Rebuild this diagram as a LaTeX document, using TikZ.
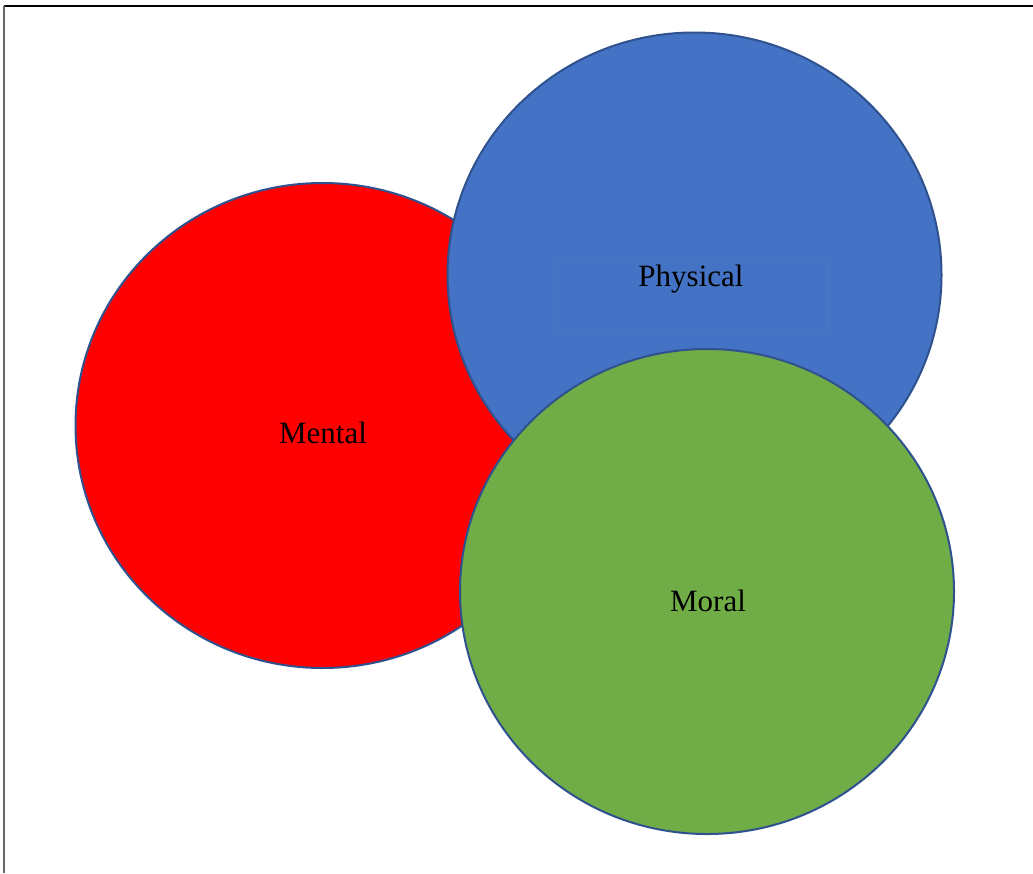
\documentclass[tikz,border=0pt]{standalone}
\usetikzlibrary{shapes.geometric}
\usepackage{fontspec}
\setmainfont{Liberation Serif}
\definecolor{edge}{HTML}{2F528F}
\definecolor{redf}{HTML}{FF0000}
\definecolor{bluef}{HTML}{4472C4}
\definecolor{greenf}{HTML}{70AD47}
\definecolor{faint}{HTML}{4A76C6}
\begin{document}
\begin{tikzpicture}[x=1pt,y=-1pt,
  disc/.style={draw=edge,line width=2pt,ellipse,inner sep=0pt,minimum width=494pt,minimum height=485pt},
  lbl/.style={font=\fontsize{31}{36}\selectfont,text=black}]
\useasboundingbox (0,0) rectangle (1033,873);
\fill[white] (0,0) rectangle (1033,873);
% frame
\draw[black,line width=2.2pt] (4,6) -- (1033,6);
\draw[black!60,line width=1.6pt] (4,6) -- (4,873);
% ellipses
\node[disc,fill=redf] (mental) at (322.5,425.5) {};
\node[disc,fill=bluef] (physical) at (694.5,275) {};
\draw[faint,line width=0.6pt] (554,262) rectangle (827,332);
\node[disc,fill=greenf] (moral) at (707,591.5) {};
% labels
\node[lbl] (tmental) at (323,433) {Mental};
\node[lbl] (tphysical) at (691,279) {Physical};
\node[lbl] (tmoral) at (708,601) {Moral};
\end{tikzpicture}
\end{document}
